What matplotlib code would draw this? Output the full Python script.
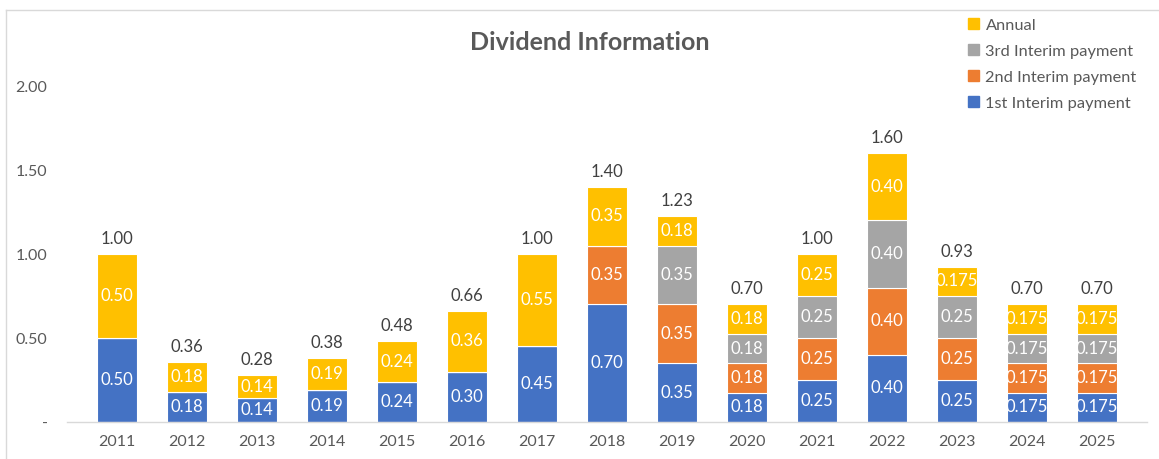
import numpy as np
import matplotlib.pyplot as plt
from matplotlib.patches import Patch
from matplotlib.lines import Line2D
from decimal import Decimal, ROUND_HALF_UP

plt.rcParams['font.family'] = ['Lato', 'DejaVu Sans']

years = ['2011', '2012', '2013', '2014', '2015', '2016', '2017', '2018',
         '2019', '2020', '2021', '2022', '2023', '2024', '2025']
first = [0.50, 0.18, 0.14, 0.19, 0.24, 0.30, 0.45, 0.70, 0.35, 0.175, 0.25, 0.40, 0.25, 0.175, 0.175]
second = [0, 0, 0, 0, 0, 0, 0, 0.35, 0.35, 0.175, 0.25, 0.40, 0.25, 0.175, 0.175]
third = [0, 0, 0, 0, 0, 0, 0, 0, 0.35, 0.175, 0.25, 0.40, 0.25, 0.175, 0.175]
annual = [0.50, 0.18, 0.14, 0.19, 0.24, 0.36, 0.55, 0.35, 0.175, 0.175, 0.25, 0.40, 0.175, 0.175, 0.175]
decimals = [2, 2, 2, 2, 2, 2, 2, 2, 2, 2, 2, 2, 3, 3, 3]

series = [('1st Interim payment', first, '#4472C4'),
          ('2nd Interim payment', second, '#ED7D31'),
          ('3rd Interim payment', third, '#A5A5A5'),
          ('Annual', annual, '#FFC000')]


def r2(v):
    # excel style rounding (half up)
    return str(Decimal(str(round(v, 6))).quantize(Decimal('0.01'), rounding=ROUND_HALF_UP))


def fmt(v, d):
    if d == 3:
        s = '%.3f' % v
        if s.endswith('0'):
            s = s[:-1]
        return s
    return r2(v)


W, H = 1159, 459
fig = plt.figure(figsize=(W / 100, H / 100), dpi=100)
ax = fig.add_axes([67 / W, (H - 422) / H, (1147 - 67) / W, (422 - 86) / H])

x = np.arange(len(years))
bottom = np.zeros(len(years))
for name, vals, col in series:
    vals = np.array(vals, dtype=float)
    ax.bar(x, vals, width=0.57, bottom=bottom, color=col, edgecolor='white',
           linewidth=0.8, label=name, zorder=2)
    for i, v in enumerate(vals):
        if v > 0:
            ax.text(x[i], bottom[i] + v / 2, fmt(v, decimals[i]), ha='center',
                    va='center', color='white', fontsize=12)
    bottom += vals

for i, t in enumerate(bottom):
    ax.annotate(r2(t), (x[i], t), xytext=(0, 5), textcoords='offset points',
                ha='center', va='bottom', color='#404040', fontsize=12)

ax.set_xlim(-0.714, len(years) - 1 + 0.714)
ax.set_ylim(0, 2.0)
ax.set_yticks([0, 0.5, 1.0, 1.5, 2.0])
ax.set_yticklabels(['-', '0.50', '1.00', '1.50', '2.00'])
ax.set_xticks(x)
ax.set_xticklabels(years)
ax.tick_params(axis='y', length=0, pad=14, labelcolor='#595959', labelsize=11.5)
ax.tick_params(axis='x', length=0, pad=9, labelcolor='#595959', labelsize=11.5)
for s in ['top', 'right', 'left']:
    ax.spines[s].set_visible(False)
ax.spines['bottom'].set_color('#D9D9D9')
ax.spines['bottom'].set_linewidth(1)

fig.text(590 / W, 1 - 43 / H, 'Dividend Information', ha='center', va='center',
         fontsize=18, fontweight='bold', color='#595959')

handles = [Patch(color=c) for _, _, c in series][::-1]
labels = [n for n, _, _ in series][::-1]
fig.legend(handles, labels, loc='upper left', bbox_to_anchor=(965 / W, 1 - 15 / H),
           frameon=False, fontsize=11.8, handlelength=0.65, handleheight=0.65,
           handletextpad=0.4, labelspacing=0.72, labelcolor='#595959',
           borderaxespad=0, borderpad=0.2)

# chart border (cropped)
fig.add_artist(Line2D([6 / W, 6 / W], [0, 1 - 10 / H], color='#D9D9D9', lw=1))
fig.add_artist(Line2D([6 / W, 1], [1 - 10 / H, 1 - 10 / H], color='#D9D9D9', lw=1))

fig.savefig('out.png', dpi=100)
